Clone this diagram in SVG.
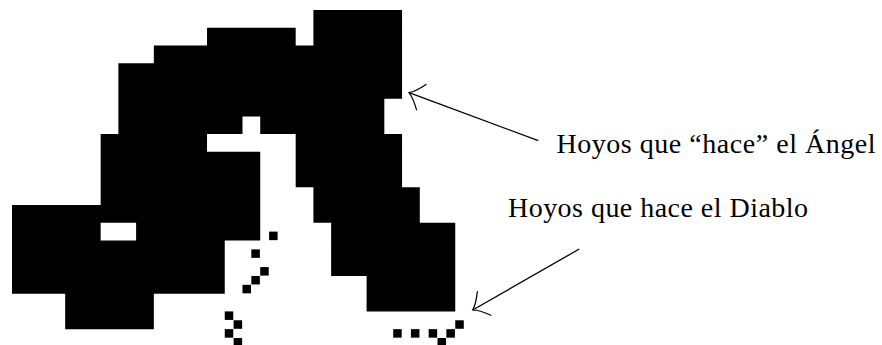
<svg xmlns="http://www.w3.org/2000/svg" width="882" height="345" viewBox="0 0 882 345">
  <style>
    .label { font-family: "Liberation Serif", "DejaVu Serif", serif; font-size: 28px; fill: #000; }
    .arrow { fill: none; stroke: #000; stroke-width: 1.3; }
    .dot { fill: #000; }
  </style>
  <defs>
    <!-- curved "to"-style arrow tip -->
    <marker id="tip" markerUnits="userSpaceOnUse" orient="auto" markerWidth="30" markerHeight="30" viewBox="-16 -16 20 32" refX="0" refY="0" overflow="visible">
      <path d="M -14,-14.5 Q -6,-3.5 0,0 Q -6,3.5 -14,14.5" fill="none" stroke="#000" stroke-width="1.3" stroke-linecap="round"/>
    </marker>
  </defs>

  <rect width="882" height="345" fill="#fff"/>

  <!-- block figure drawn on a grid: one unit = 17.73 px -->
  <g id="shape" transform="translate(12 10) scale(17.73)">
    <path fill="#000" fill-rule="evenodd" d="M17,0 H22 V5 H21 V7 H22 V10 H23 V12 H25 V17 H20 V15 H18 V12 H17 V10 H16 V7 H14 V6 H13 V7 H11 V8 H14 V13 H12 V16 H8 V18 H3 V16 H0 V11 H5 V7 H6 V3 H8 V2 H11 V1 H16 V2 H17 Z M5,12 H7 V13 H5 Z"/>
  </g>

  <!-- small squares on the half-unit grid -->
  <g id="dots" transform="translate(12 10) scale(8.865)">
    <rect class="dot" x="29" y="25" width="0.96" height="0.96"/>
    <rect class="dot" x="27" y="27" width="0.96" height="0.96"/>
    <rect class="dot" x="28" y="29" width="0.96" height="0.96"/>
    <rect class="dot" x="27" y="30" width="0.96" height="0.96"/>
    <rect class="dot" x="26" y="31" width="0.96" height="0.96"/>
    <rect class="dot" x="24" y="34" width="0.96" height="0.96"/>
    <rect class="dot" x="25" y="35" width="0.96" height="0.96"/>
    <rect class="dot" x="24" y="36" width="0.96" height="0.96"/>
    <rect class="dot" x="25" y="37" width="0.96" height="0.96"/>
    <rect class="dot" x="43" y="36" width="0.96" height="0.96"/>
    <rect class="dot" x="45" y="36" width="0.96" height="0.96"/>
    <rect class="dot" x="47" y="36" width="0.96" height="0.96"/>
    <rect class="dot" x="48" y="37" width="0.96" height="0.96"/>
    <rect class="dot" x="49" y="36" width="0.96" height="0.96"/>
    <rect class="dot" x="50" y="35" width="0.96" height="0.96"/>
  </g>

  <g id="label-angel">
    <text class="label" x="556.5" y="153" textLength="319" lengthAdjust="spacing">Hoyos que “hace” el Ángel</text>
  </g>
  <g id="label-diablo">
    <text class="label" x="508" y="217" textLength="300" lengthAdjust="spacing">Hoyos que hace el Diablo</text>
  </g>

  <g id="connectors">
    <line class="arrow" x1="538.3" y1="140.7" x2="409" y2="92.6" marker-end="url(#tip)"/>
    <line class="arrow" x1="579.3" y1="249" x2="472.7" y2="310" marker-end="url(#tip)"/>
  </g>
</svg>
